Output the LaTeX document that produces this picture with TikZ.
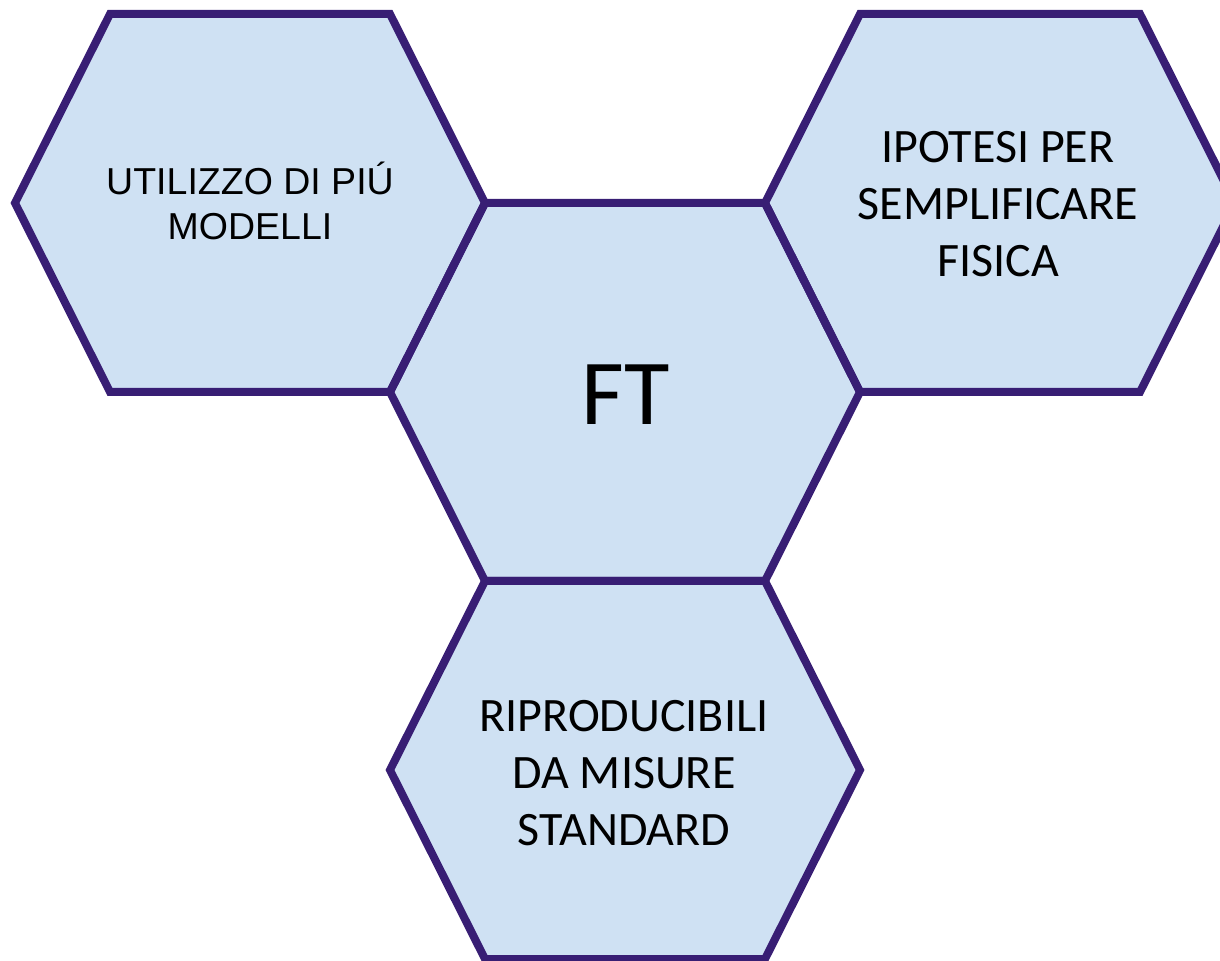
\documentclass[tikz,border=0pt]{standalone}
\usepackage{fontspec}
\newfontfamily\arialf{Liberation Sans}
\newfontfamily\calf{Carlito}
\definecolor{hexfillc}{RGB}{207,225,243}
\definecolor{hexline}{RGB}{56,30,116}
\begin{document}
\begin{tikzpicture}[x=0.5pt,y=-0.5pt,
  hexfill/.style={fill=hexfillc},
  hexedge/.style={draw=hexline,line width=4pt,line join=miter},
  smalltext/.style={align=center,font=\arialf\fontsize{18.75}{22.5}\selectfont,text=black,inner sep=0pt},
  bigtext/.style={align=center,font=\calf\fontsize{24}{28.5}\selectfont,text=black,inner sep=0pt},
  hubtext/.style={font=\calf\fontsize{46.5}{50}\selectfont,text=black,inner sep=0pt}]
\useasboundingbox (0,0) rectangle (1220,961);
\clip (0,0) rectangle (1220,961);
% tessellating hexagon cells (half top edge 140, half width 235, half height 189);
% fills first, outlines on top
\foreach \x/\y in {250/203, 625/392, 1000/203, 625/770} {
  \fill[hexfill,shift={(\x,\y)}] (-140,-189) -- (140,-189) -- (235,0) -- (140,189) -- (-140,189) -- (-235,0) -- cycle;
}
\foreach \x/\y in {250/203, 625/392, 1000/203, 625/770} {
  \draw[hexedge,shift={(\x,\y)}] (-140,-189) -- (140,-189) -- (235,0) -- (140,189) -- (-140,189) -- (-235,0) -- cycle;
}
% labels
\node[smalltext] (tl) at (250,201) {UTILIZZO DI PIÚ\\MODELLI};
\node[hubtext] (hub) at (626,395) {FT};
\node[bigtext] (tr) at (998,204) {IPOTESI PER\\SEMPLIFICARE\\FISICA};
\node[bigtext] (bt) at (624,773) {RIPRODUCIBILI\\DA MISURE\\STANDARD};
\end{tikzpicture}
\end{document}
